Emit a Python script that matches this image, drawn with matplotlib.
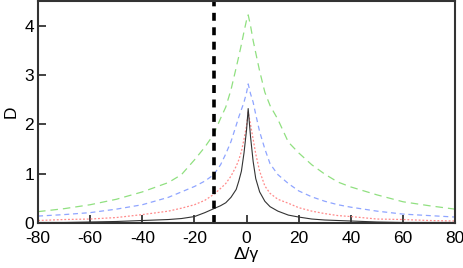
import matplotlib
matplotlib.use("Agg")
import matplotlib.pyplot as plt

# detuning grid (Delta / gamma)
x = [-80, -70, -60, -50, -40, -30, -25, -20, -16, -12.6, -10, -8, -6, -4, -3, -2, -1, 0,
     0.6, 1.5, 2.5, 3.5, 5, 7, 9, 12, 16, 20, 25, 30, 35, 40, 50, 60, 70, 80]

d_black = [0.01, 0.01, 0.02, 0.03, 0.05, 0.07, 0.09, 0.13, 0.21, 0.29, 0.35, 0.41, 0.52, 0.68, 0.85, 1.05, 1.42, 1.90,
           2.32, 1.75, 1.25, 0.90, 0.63, 0.44, 0.33, 0.24, 0.16, 0.12, 0.08, 0.06, 0.05, 0.04, 0.02, 0.01, 0.01, 0.01]
d_red = [0.05, 0.07, 0.08, 0.11, 0.17, 0.24, 0.30, 0.37, 0.46, 0.58, 0.70, 0.80, 0.95, 1.15, 1.28, 1.45, 1.70, 1.98,
         2.25, 2.00, 1.70, 1.40, 1.05, 0.75, 0.60, 0.48, 0.40, 0.31, 0.24, 0.19, 0.15, 0.13, 0.08, 0.07, 0.05, 0.04]
d_blue = [0.14, 0.17, 0.21, 0.28, 0.37, 0.52, 0.63, 0.74, 0.85, 0.98, 1.18, 1.40, 1.65, 1.98, 2.15, 2.30, 2.45, 2.65,
          2.82, 2.62, 2.45, 2.20, 1.85, 1.50, 1.20, 0.98, 0.80, 0.65, 0.53, 0.44, 0.37, 0.32, 0.24, 0.18, 0.15, 0.12]
d_green = [0.23, 0.29, 0.37, 0.48, 0.63, 0.82, 0.98, 1.28, 1.54, 1.80, 2.12, 2.35, 2.70, 3.15, 3.38, 3.62, 3.88, 4.12,
           4.22, 4.00, 3.70, 3.45, 3.08, 2.65, 2.38, 2.10, 1.64, 1.42, 1.18, 0.99, 0.83, 0.73, 0.57, 0.43, 0.35, 0.28]

x_marker = -12.6

plt.rcParams["font.family"] = ["Liberation Sans", "DejaVu Sans"]
plt.rcParams["axes.unicode_minus"] = False

fig = plt.figure(figsize=(4.64, 2.68), dpi=100)
ax = fig.add_axes([0.082, 0.168, 0.899, 0.828])

ax.plot(x, d_green, color="#90e080", lw=0.9, dashes=(6, 4))
ax.plot(x, d_blue, color="#8fa5ff", lw=0.9, dashes=(4, 3))
ax.plot(x, d_red, color="#ff8a8a", lw=0.9, dashes=(1.5, 1.5))
ax.plot(x, d_black, color="#333333", lw=0.8)
ax.axvline(x_marker, color="black", lw=2.6, dashes=(2.2, 1.8))

ax.set_xlim(-80, 80)
ax.set_ylim(0, 4.5)
ax.set_xticks(range(-80, 81, 20))
ax.set_yticks([0, 1, 2, 3, 4])
ax.tick_params(direction="in", length=6, width=1.2, labelsize=12.5, color="#222222",
               top=False, right=False)
ax.tick_params(axis="y", pad=3)
ax.tick_params(axis="x", pad=5.5)
for s in ax.spines.values():
    s.set_linewidth(1.5)
    s.set_color("#333333")

ax.set_xlabel("Δ/γ", fontsize=12.5, labelpad=1)
ax.set_ylabel("D", fontsize=12.5, labelpad=4)

fig.savefig("out.png", dpi=100)
